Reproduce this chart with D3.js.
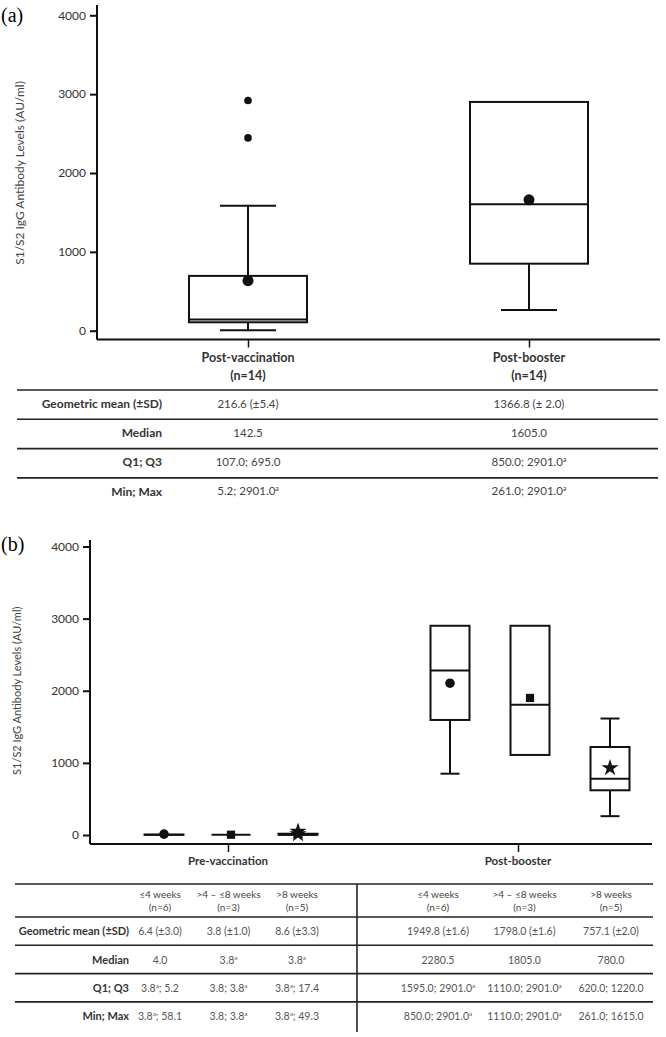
<!DOCTYPE html>
<html>
<head>
<meta charset="utf-8">
<script src="https://cdnjs.cloudflare.com/ajax/libs/d3/7.8.5/d3.min.js"></script>
<style>
  body { margin: 0; background: #fff; }
  svg { display: block; font-family: Lato, 'Open Sans', sans-serif; }
</style>
</head>
<body>
<svg id="chart" width="666" height="1037"></svg>
<script>
// ---- Panel (a) data ----
var panelAGroups = ['Post-vaccination', 'Post-booster'];
var panelAN = [14, 14];
var panelALow = [5.2, 261.0];        // lower whisker end
var panelAQ1 = [107.0, 850.0];
var panelAMedian = [142.5, 1605.0];
var panelAQ3 = [695.0, 2901.0];
var panelAHigh = [1585, 2901.0];     // upper whisker end
var panelAMean = [635, 1660];
var panelAOutliers = [[2445, 2920], []];

// ---- Panel (b) data ----
var panelBPhases = ['Pre-vaccination', 'Post-booster'];
var panelBWeeks = ['≤4 weeks', '>4 – ≤8 weeks', '>8 weeks'];
var panelBN = [6, 3, 5];
var panelBLow = [[3.8, 3.8, 3.8], [850.0, 1110.0, 261.0]];
var panelBQ1 = [[3.8, 3.8, 3.8], [1595.0, 1110.0, 620.0]];
var panelBMedian = [[4.0, 3.8, 3.8], [2280.5, 1805.0, 780.0]];
var panelBQ3 = [[5.2, 3.8, 17.4], [2901.0, 2901.0, 1220.0]];
var panelBHigh = [[5.2, 3.8, 17.4], [2901.0, 2901.0, 1615.0]];
var panelBMean = [[12, 3.8, 14], [2105, 1900, 930]];
var panelBOutliers = [[[], [], [49.3]], [[], [], []]];
var panelBSymbols = ['circle', 'square', 'star'];

// ---- Axis and table labels ----
var yTicks = [0, 1000, 2000, 3000, 4000];
var yLabel = 'S1/S2 IgG Antibody Levels (AU/ml)';
var tableRowLabels = ['Geometric mean (±SD)', 'Median', 'Q1; Q3', 'Min; Max'];

// "^a" marks a superscript a
var panelATable = [
    ['216.6 (±5.4)', '1366.8 (± 2.0)'],
    ['142.5', '1605.0'],
    ['107.0; 695.0', '850.0; 2901.0^a'],
    ['5.2; 2901.0^a', '261.0; 2901.0^a']
];
var panelBTablePre = [
    ['6.4 (±3.0)', '3.8 (±1.0)', '8.6 (±3.3)'],
    ['4.0', '3.8^a', '3.8^a'],
    ['3.8^a; 5.2', '3.8; 3.8^a', '3.8^a; 17.4'],
    ['3.8^a; 58.1', '3.8; 3.8^a', '3.8^a; 49.3']
];
var panelBTablePost = [
    ['1949.8 (±1.6)', '1798.0 (±1.6)', '757.1 (±2.0)'],
    ['2280.5', '1805.0', '780.0'],
    ['1595.0; 2901.0^a', '1110.0; 2901.0^a', '620.0; 1220.0'],
    ['850.0; 2901.0^a', '1110.0; 2901.0^a', '261.0; 1615.0']
];

var svg = d3.select('#chart');
var INK = '#111';
var TEXT = '#333';

// Write text with optional superscript "a"
function richText(sel, str, size) {
    var parts = str.split('^a');
    var shift = 0;
    parts.forEach(function (p, i) {
        if (p.length) {
            sel.append('tspan')
                .attr('font-size', size)
                .attr('dy', shift)
                .text(p);
            shift = 0;
        }
        if (i < parts.length - 1) {
            sel.append('tspan')
                .attr('font-size', size * 0.6)
                .attr('dy', -size * 0.35)
                .text('a');
            shift = size * 0.35;
        }
    });
}

// Draw a y axis with its label
function drawYAxis(g, y, axisX, topY, labelX, fontSize, labelSize) {
    var axis = d3.axisLeft(y).tickValues(yTicks).tickFormat(d3.format('d'))
        .tickSize(7).tickPadding(4);
    var ga = g.append('g')
        .attr('transform', 'translate(' + axisX + ',0)')
        .call(axis);
    ga.select('.domain').remove();
    ga.selectAll('.tick line').attr('stroke', INK).attr('stroke-width', 2);
    ga.selectAll('.tick text')
        .attr('fill', TEXT)
        .attr('font-size', fontSize)
        .attr('font-family', 'Lato, sans-serif');
    g.append('line')
        .attr('x1', axisX).attr('x2', axisX)
        .attr('y1', topY).attr('y2', y.range()[0] + 9)
        .attr('stroke', INK).attr('stroke-width', 2);

    var mid = (y.range()[0] + y.range()[1]) / 2;
    g.append('text')
        .attr('transform', 'translate(' + labelX + ',' + mid + ') rotate(-90)')
        .attr('text-anchor', 'middle')
        .attr('fill', '#444')
        .attr('font-size', labelSize)
        .text(yLabel);
}

// Draw one box-and-whisker
function drawBox(g, y, cx, w, capW, low, q1, med, q3, high) {
    var line = function (x1, y1, x2, y2) {
        g.append('line')
            .attr('x1', x1).attr('y1', y1).attr('x2', x2).attr('y2', y2)
            .attr('stroke', INK).attr('stroke-width', 2);
    };
    if (high > q3) {
        line(cx, y(q3), cx, y(high));
        line(cx - capW / 2, y(high), cx + capW / 2, y(high));
    }
    if (low < q1) {
        line(cx, y(q1), cx, y(low));
        line(cx - capW / 2, y(low), cx + capW / 2, y(low));
    }
    g.append('rect')
        .attr('x', cx - w / 2)
        .attr('y', y(q3))
        .attr('width', w)
        .attr('height', Math.max(0, y(q1) - y(q3)))
        .attr('fill', 'none')
        .attr('stroke', INK)
        .attr('stroke-width', 2);
    line(cx - w / 2, y(med), cx + w / 2, y(med));
}

// Draw the x axis line, ticks and group labels
function drawXAxis(g, x, axisY, x1, x2, fontSize, labelOffset, labels) {
    var axis = d3.axisBottom(x).tickSize(8).tickFormat('');
    var ga = g.append('g')
        .attr('transform', 'translate(0,' + axisY + ')')
        .call(axis);
    ga.select('.domain').remove();
    ga.selectAll('.tick line').attr('stroke', INK).attr('stroke-width', 1.5);
    g.append('line')
        .attr('x1', x1).attr('x2', x2)
        .attr('y1', axisY).attr('y2', axisY)
        .attr('stroke', INK).attr('stroke-width', 2);
    labels.forEach(function (lines, i) {
        var t = g.append('text')
            .attr('text-anchor', 'middle')
            .attr('fill', TEXT)
            .attr('font-weight', 700)
            .attr('font-size', fontSize);
        lines.forEach(function (s, k) {
            t.append('tspan')
                .attr('x', x(x.domain()[i]))
                .attr('y', axisY + labelOffset + k * 18)
                .text(s);
        });
    });
}

function hline(g, x1, x2, yy) {
    g.append('line')
        .attr('x1', x1).attr('x2', x2).attr('y1', yy).attr('y2', yy)
        .attr('stroke', '#222').attr('stroke-width', 1.6);
}

// ================= Panel (a) =================
var ga = svg.append('g');
ga.append('text')
    .attr('x', 1).attr('y', 22)
    .attr('font-family', "'Liberation Serif', 'DejaVu Serif', serif")
    .attr('font-size', 20)
    .attr('fill', '#000')
    .text('(a)');

var yA = d3.scaleLinear().domain([0, 4000]).range([330.7, 15.3]);
var xA = d3.scalePoint().domain(panelAGroups).range([248, 529]);

drawYAxis(ga, yA, 97, 5, 24, 12, 12);
drawXAxis(ga, xA, 339.5, 97, 660, 12.5, 22,
    panelAGroups.map(function (d, i) { return [d, '(n=' + panelAN[i] + ')']; }));

panelAGroups.forEach(function (d, i) {
    var cx = xA(d);
    drawBox(ga, yA, cx, 118, 56, panelALow[i], panelAQ1[i], panelAMedian[i], panelAQ3[i], panelAHigh[i]);
    ga.selectAll(null)
        .data(panelAOutliers[i])
        .enter()
        .append('circle')
        .attr('cx', cx)
        .attr('cy', function (v) { return yA(v); })
        .attr('r', 3.8)
        .attr('fill', INK);
    ga.append('circle')
        .attr('cx', cx)
        .attr('cy', yA(panelAMean[i]))
        .attr('r', 5.5)
        .attr('fill', INK);
});

// Table (a)
var tA = svg.append('g').attr('font-size', 12).attr('fill', TEXT);
var rowTopA = 390, rowHA = 29.3;
tableRowLabels.forEach(function (label, r) {
    hline(tA, 17, 658, rowTopA + r * rowHA);
    var cy = rowTopA + r * rowHA + 13.5;
    tA.append('text')
        .attr('x', 162).attr('y', cy).attr('dy', '0.35em')
        .attr('text-anchor', 'end')
        .attr('font-weight', 700)
        .text(label);
    panelATable[r].forEach(function (val, c) {
        var t = tA.append('text')
            .attr('x', xA(panelAGroups[c])).attr('y', cy + 4)
            .attr('text-anchor', 'middle')
            .attr('font-size', 11.5)
            .attr('fill', '#444');
        richText(t, val, 11.5);
    });
});

// ================= Panel (b) =================
var gb = svg.append('g');
gb.append('text')
    .attr('x', 1).attr('y', 551)
    .attr('font-family', "'Liberation Serif', 'DejaVu Serif', serif")
    .attr('font-size', 20)
    .attr('fill', '#000')
    .text('(b)');

var yB = d3.scaleLinear().domain([0, 4000]).range([835, 546.5]);
var xB = d3.scalePoint().domain(panelBPhases).range([228, 518]);
// Position of each week group inside a phase
var innerB = [
    d3.scalePoint().domain(panelBWeeks).range([-64, 70]),
    d3.scalePoint().domain(panelBWeeks).range([-68, 92])
];
var symbolTypes = { circle: d3.symbolCircle, square: d3.symbolSquare, star: d3.symbolStar };
var symbolSizes = { circle: 72, square: 68, star: 90 };

drawYAxis(gb, yB, 90, 540, 21, 12, 11);
drawXAxis(gb, xB, 844, 90, 652, 11.5, 21, panelBPhases.map(function (d) { return [d]; }));

panelBPhases.forEach(function (phase, p) {
    panelBWeeks.forEach(function (wk, k) {
        var cx = xB(phase) + innerB[p](wk);
        drawBox(gb, yB, cx, 39, 19, panelBLow[p][k], panelBQ1[p][k], panelBMedian[p][k], panelBQ3[p][k], panelBHigh[p][k]);
        var sym = d3.symbol().type(symbolTypes[panelBSymbols[k]]).size(symbolSizes[panelBSymbols[k]]);
        gb.selectAll(null)
            .data(panelBOutliers[p][k].concat([panelBMean[p][k]]))
            .enter()
            .append('path')
            .attr('d', sym)
            .attr('transform', function (v) { return 'translate(' + cx + ',' + yB(v) + ')'; })
            .attr('fill', INK);
    });
});

// Table (b)
var tB = svg.append('g').attr('fill', TEXT);
var preCols = d3.scalePoint().domain(panelBWeeks).range([160, 297]);
var postCols = d3.scalePoint().domain(panelBWeeks).range([438, 611]);
var tableCols = [preCols, postCols];
var tablesB = [panelBTablePre, panelBTablePost];

hline(tB, 15, 653, 884);
tB.append('line')
    .attr('x1', 357).attr('x2', 357).attr('y1', 884).attr('y2', 1032)
    .attr('stroke', '#222').attr('stroke-width', 1.6);

tableCols.forEach(function (cols) {
    panelBWeeks.forEach(function (wk, k) {
        var t = tB.append('text')
            .attr('text-anchor', 'middle')
            .attr('font-size', 10)
            .attr('fill', '#444');
        t.append('tspan').attr('x', cols(wk)).attr('y', 898).text(wk);
        t.append('tspan').attr('x', cols(wk)).attr('y', 911).text('(n=' + panelBN[k] + ')');
    });
});

var rowTopB = 917, rowHB = 28.3;
tableRowLabels.forEach(function (label, r) {
    hline(tB, 15, 653, rowTopB + r * rowHB);
    var cy = rowTopB + r * rowHB + 14.5;
    tB.append('text')
        .attr('x', 129).attr('y', cy).attr('dy', '0.35em')
        .attr('text-anchor', 'end')
        .attr('font-size', 11)
        .attr('font-weight', 700)
        .text(label);
    tablesB.forEach(function (tbl, p) {
        tbl[r].forEach(function (val, k) {
            var t = tB.append('text')
                .attr('x', tableCols[p](panelBWeeks[k])).attr('y', cy + 3.7)
                .attr('text-anchor', 'middle')
                .attr('font-size', 10.5)
                .attr('fill', '#555');
            richText(t, val, 10.5);
        });
    });
});
</script>
</body>
</html>
